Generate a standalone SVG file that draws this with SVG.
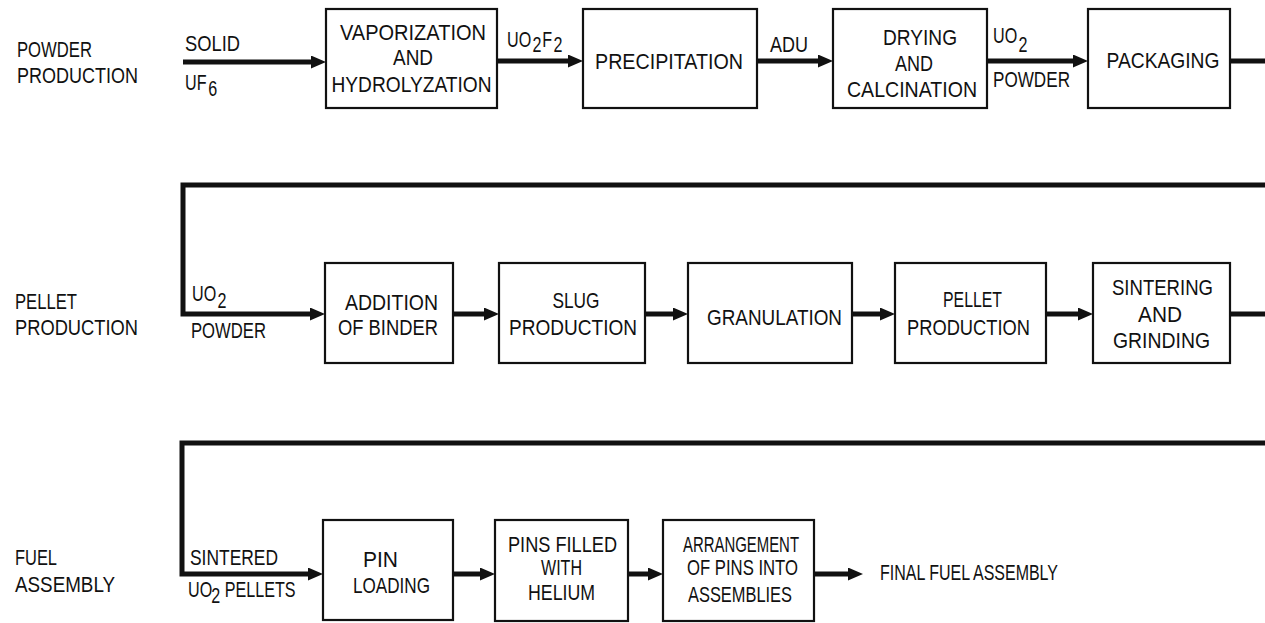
<svg xmlns="http://www.w3.org/2000/svg" width="1265" height="623" viewBox="0 0 1265 623">
<style>
text{font-family:"Liberation Sans",Arial,sans-serif;font-size:21.5px;fill:#111}
.c{text-anchor:middle}
.box{fill:#fff;stroke:#111;stroke-width:2.2}
.flow{fill:none;stroke:#111;stroke-width:5;stroke-linejoin:miter}
</style>
<defs>
<marker id="ah" markerUnits="userSpaceOnUse" markerWidth="15" markerHeight="13" refX="0" refY="6.5" orient="auto">
<path d="M0,0 L15,6.5 L0,13 z" fill="#111"/>
</marker>
</defs>
<g id="row-labels">
<text x="17" y="57" textLength="75" lengthAdjust="spacingAndGlyphs">POWDER</text>
<text x="17" y="83" textLength="121" lengthAdjust="spacingAndGlyphs">PRODUCTION</text>
<text x="15" y="309" textLength="62" lengthAdjust="spacingAndGlyphs">PELLET</text>
<text x="15" y="335" textLength="123" lengthAdjust="spacingAndGlyphs">PRODUCTION</text>
<text x="15" y="565" textLength="42" lengthAdjust="spacingAndGlyphs">FUEL</text>
<text x="15" y="592" textLength="100" lengthAdjust="spacingAndGlyphs">ASSEMBLY</text>
</g>
<g id="connectors">
<line class="flow" x1="183" y1="62" x2="311" y2="62" marker-end="url(#ah)"/>
<line class="flow" x1="498" y1="61" x2="568" y2="61" marker-end="url(#ah)"/>
<line class="flow" x1="757" y1="61" x2="818" y2="61" marker-end="url(#ah)"/>
<line class="flow" x1="987" y1="61" x2="1073" y2="61" marker-end="url(#ah)"/>
<line class="flow" x1="1230" y1="61" x2="1265" y2="61"/>
<path class="flow" d="M1265,185 H183 V314 H310" marker-end="url(#ah)"/>
<line class="flow" x1="453" y1="314" x2="484" y2="314" marker-end="url(#ah)"/>
<line class="flow" x1="645" y1="314" x2="673" y2="314" marker-end="url(#ah)"/>
<line class="flow" x1="852" y1="314" x2="880" y2="314" marker-end="url(#ah)"/>
<line class="flow" x1="1046" y1="314" x2="1078" y2="314" marker-end="url(#ah)"/>
<line class="flow" x1="1230" y1="314" x2="1265" y2="314"/>
<path class="flow" d="M1265,443 H182 V574 H308" marker-end="url(#ah)"/>
<line class="flow" x1="453" y1="574" x2="480" y2="574" marker-end="url(#ah)"/>
<line class="flow" x1="628" y1="574" x2="648" y2="574" marker-end="url(#ah)"/>
<line class="flow" x1="814" y1="574" x2="848" y2="574" marker-end="url(#ah)"/>
</g>
<g id="flow-labels">
<text x="185" y="51" textLength="55" lengthAdjust="spacingAndGlyphs">SOLID</text>
<g transform="translate(185,90) scale(0.75,1)">
<text x="0" y="0">UF</text>
<text x="31" y="6">6</text>
</g>
<g transform="translate(507,47) scale(0.75,1)">
<text x="0" y="0">UO</text>
<text x="34" y="5">2</text>
<text x="47" y="0">F</text>
<text x="62" y="5">2</text>
</g>
<text x="770" y="52" textLength="38" lengthAdjust="spacingAndGlyphs">ADU</text>
<g transform="translate(993,43) scale(0.75,1)">
<text x="0" y="0">UO</text>
<text x="34" y="9">2</text>
</g>
<text x="993" y="87" textLength="77" lengthAdjust="spacingAndGlyphs">POWDER</text>
<g transform="translate(192,301) scale(0.75,1)">
<text x="0" y="0">UO</text>
<text x="34" y="7">2</text>
</g>
<text x="191" y="338" textLength="75" lengthAdjust="spacingAndGlyphs">POWDER</text>
<text x="190" y="565" textLength="88" lengthAdjust="spacingAndGlyphs">SINTERED</text>
<g transform="translate(188,597) scale(0.75,1)">
<text x="0" y="0">UO</text>
<text x="31" y="6">2</text>
<text x="49" y="0">PELLETS</text>
</g>
<text x="880" y="580" textLength="178" lengthAdjust="spacingAndGlyphs">FINAL FUEL ASSEMBLY</text>
</g>
<g id="n-vaporization">
<rect class="box" x="326" y="9" width="171" height="99"/>
<text class="c" x="413" y="40" textLength="146" lengthAdjust="spacingAndGlyphs">VAPORIZATION</text>
<text class="c" x="413" y="65" textLength="40" lengthAdjust="spacingAndGlyphs">AND</text>
<text class="c" x="411.5" y="92" textLength="160" lengthAdjust="spacingAndGlyphs">HYDROLYZATION</text>
</g>
<g id="n-precipitation">
<rect class="box" x="583" y="9" width="174" height="99"/>
<text class="c" x="669" y="69" textLength="148" lengthAdjust="spacingAndGlyphs">PRECIPITATION</text>
</g>
<g id="n-drying">
<rect class="box" x="833" y="9" width="154" height="99"/>
<text class="c" x="920" y="45" textLength="74" lengthAdjust="spacingAndGlyphs">DRYING</text>
<text class="c" x="914" y="71" textLength="38" lengthAdjust="spacingAndGlyphs">AND</text>
<text class="c" x="912" y="97" textLength="130" lengthAdjust="spacingAndGlyphs">CALCINATION</text>
</g>
<g id="n-packaging">
<rect class="box" x="1088" y="9" width="142" height="99"/>
<text class="c" x="1163" y="68" textLength="113" lengthAdjust="spacingAndGlyphs">PACKAGING</text>
</g>
<g id="n-addition">
<rect class="box" x="325" y="263" width="128" height="100"/>
<text class="c" x="391.5" y="310" textLength="93" lengthAdjust="spacingAndGlyphs">ADDITION</text>
<text class="c" x="388" y="335" textLength="100" lengthAdjust="spacingAndGlyphs">OF BINDER</text>
</g>
<g id="n-slug">
<rect class="box" x="499" y="263" width="146" height="100"/>
<text class="c" x="576" y="308" textLength="47" lengthAdjust="spacingAndGlyphs">SLUG</text>
<text class="c" x="573" y="335" textLength="128" lengthAdjust="spacingAndGlyphs">PRODUCTION</text>
</g>
<g id="n-granulation">
<rect class="box" x="688" y="263" width="164" height="100"/>
<text class="c" x="774.5" y="325" textLength="135" lengthAdjust="spacingAndGlyphs">GRANULATION</text>
</g>
<g id="n-pellet">
<rect class="box" x="895" y="263" width="151" height="100"/>
<text class="c" x="972.5" y="307" textLength="59" lengthAdjust="spacingAndGlyphs">PELLET</text>
<text class="c" x="968.5" y="335" textLength="123" lengthAdjust="spacingAndGlyphs">PRODUCTION</text>
</g>
<g id="n-sintering">
<rect class="box" x="1093" y="263" width="137" height="100"/>
<text class="c" x="1162.5" y="295" textLength="101" lengthAdjust="spacingAndGlyphs">SINTERING</text>
<text class="c" x="1160" y="322" textLength="44" lengthAdjust="spacingAndGlyphs">AND</text>
<text class="c" x="1161.5" y="348" textLength="97" lengthAdjust="spacingAndGlyphs">GRINDING</text>
</g>
<g id="n-pin-loading">
<rect class="box" x="323" y="520" width="130" height="100"/>
<text class="c" x="380.5" y="567" textLength="35" lengthAdjust="spacingAndGlyphs">PIN</text>
<text class="c" x="391.5" y="593" textLength="77" lengthAdjust="spacingAndGlyphs">LOADING</text>
</g>
<g id="n-pins-filled">
<rect class="box" x="495" y="520" width="133" height="101"/>
<text class="c" x="562.5" y="552" textLength="109" lengthAdjust="spacingAndGlyphs">PINS FILLED</text>
<text class="c" x="561.5" y="575" textLength="41" lengthAdjust="spacingAndGlyphs">WITH</text>
<text class="c" x="561.5" y="600" textLength="67" lengthAdjust="spacingAndGlyphs">HELIUM</text>
</g>
<g id="n-arrangement">
<rect class="box" x="663" y="520" width="151" height="101"/>
<text class="c" x="741" y="552" textLength="116" lengthAdjust="spacingAndGlyphs">ARRANGEMENT</text>
<text class="c" x="742.5" y="575" textLength="111" lengthAdjust="spacingAndGlyphs">OF PINS INTO</text>
<text class="c" x="740" y="602" textLength="104" lengthAdjust="spacingAndGlyphs">ASSEMBLIES</text>
</g>
</svg>
